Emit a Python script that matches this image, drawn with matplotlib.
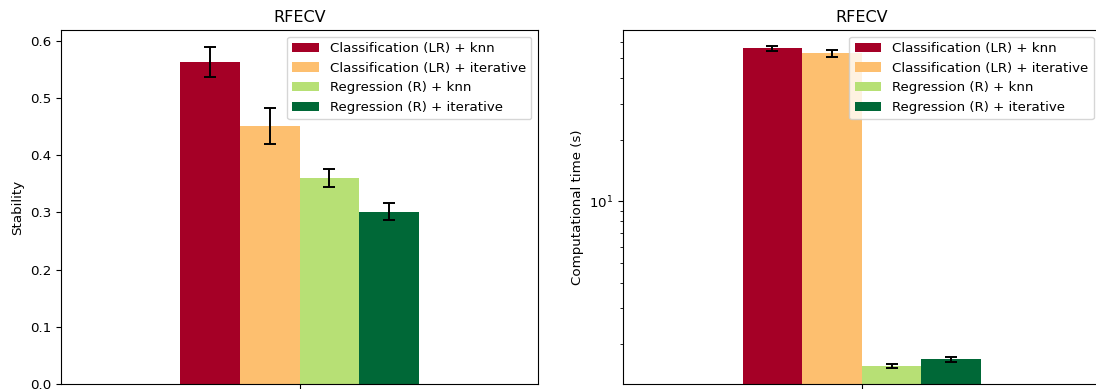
import matplotlib
matplotlib.use("Agg")
import matplotlib.pyplot as plt
import numpy as np

# Methods compared (one group, four bars)
methods = [
    "Classification (LR) + knn",
    "Classification (LR) + iterative",
    "Regression (R) + knn",
    "Regression (R) + iterative",
]
group_label = "RFECV"

stability_mean = [0.563, 0.451, 0.360, 0.301]
stability_std = [0.026, 0.031, 0.0155, 0.0145]

time_mean = [56.0, 53.0, 1.57, 1.69]
time_std = [1.5, 1.9, 0.038, 0.045]

plt.rcParams["font.size"] = 9.6
plt.rcParams["axes.titlesize"] = 11.5

colors = [plt.cm.RdYlGn(v) for v in np.linspace(0, 1, len(methods))]

fig = plt.figure(figsize=(10.96, 3.89), dpi=100)
ax1 = fig.add_axes([61 / 1096, 5 / 389, 477 / 1096, 354 / 389])
ax2 = fig.add_axes([623.3 / 1096, 5 / 389, 477 / 1096, 354 / 389])

width = 0.2
offsets = (np.arange(len(methods)) - (len(methods) - 1) / 2) * width


def draw(ax, means, stds, ylabel, log=False):
    for off, m, s, c, lab in zip(offsets, means, stds, colors, methods):
        ax.bar(off, m, width, yerr=s, color=c, label=lab,
               capsize=4, error_kw=dict(elinewidth=1.4, capthick=1.4, ecolor="black"))
    if log:
        ax.set_yscale("log")
    ax.set_xlim(-0.8, 0.8)
    ax.set_xticks([0])
    ax.set_xticklabels([""])
    ax.set_ylabel(ylabel)
    ax.set_title(group_label)
    ax.legend(loc="upper right")


draw(ax1, stability_mean, stability_std, "Stability")
draw(ax2, time_mean, time_std, "Computational time (s)", log=True)

fig.savefig("out.png", dpi=100)
